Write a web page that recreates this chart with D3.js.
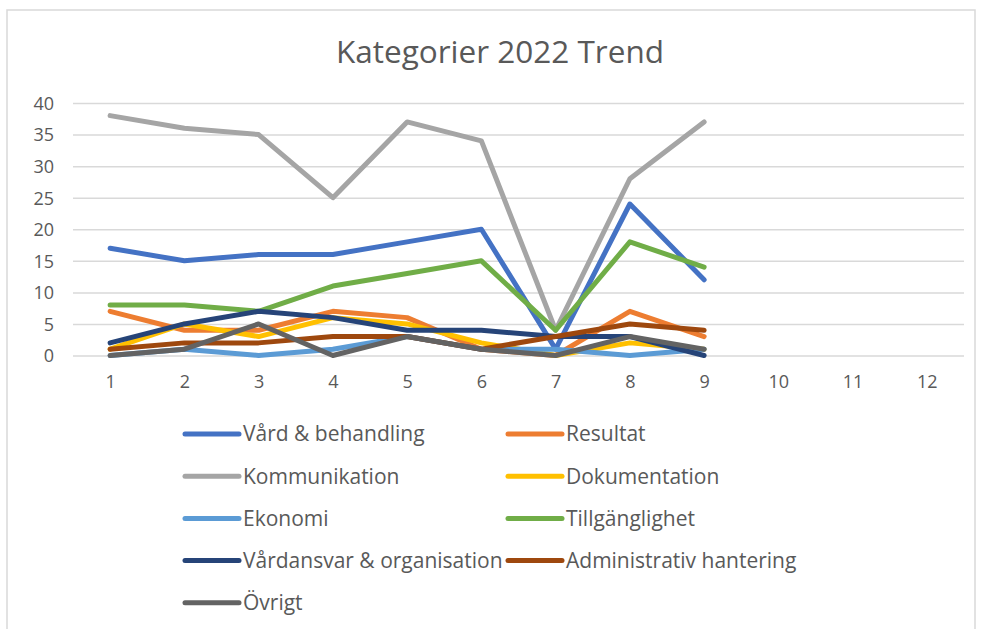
<!DOCTYPE html>
<html>
  <head>
    <meta charset="utf-8">
    <script src="https://d3js.org/d3.v7.min.js"></script>
    <style>
      body { margin: 0; background: white; }
      .gridline line { stroke: #d9d9d9; stroke-width: 1.5; }
      .gridline path { display: none; }
      .axis text { fill: #595959; font-family: "Open Sans", sans-serif; font-size: 18px; }
      .axis path, .axis line { display: none; }
      .legend text { fill: #595959; font-family: "Open Sans", sans-serif; font-size: 21px; }
    </style>
  </head>
  <body>
    <script>

      var months = ["1", "2", "3", "4", "5", "6", "7", "8", "9", "10", "11", "12"];
      var yTicks = [0, 5, 10, 15, 20, 25, 30, 35, 40];

      var seriesNames = ["Vård & behandling", "Resultat", "Kommunikation", "Dokumentation",
        "Ekonomi", "Tillgänglighet", "Vårdansvar & organisation", "Administrativ hantering", "Övrigt"];
      var seriesColors = ["#4472C4", "#ED7D31", "#A5A5A5", "#FFC000",
        "#5B9BD5", "#70AD47", "#264478", "#9E480E", "#636363"];

      var vard = [17, 15, 16, 16, 18, 20, 1, 24, 12];
      var resultat = [7, 4, 4, 7, 6, 1, 0, 7, 3];
      var kommunikation = [38, 36, 35, 25, 37, 34, 4, 28, 37];
      var dokumentation = [1, 5, 3, 6, 5, 2, 0, 2, 1];
      var ekonomi = [0, 1, 0, 1, 3, 1, 1, 0, 1];
      var tillganglighet = [8, 8, 7, 11, 13, 15, 4, 18, 14];
      var vardansvar = [2, 5, 7, 6, 4, 4, 3, 3, 0];
      var administrativ = [1, 2, 2, 3, 3, 1, 3, 5, 4];
      var ovrigt = [0, 1, 5, 0, 3, 1, 0, 3, 1];

      var seriesValues = [vard, resultat, kommunikation, dokumentation, ekonomi,
        tillganglighet, vardansvar, administrativ, ovrigt];

      var width = 981, height = 629;
      var plot = {left: 73, right: 964, top: 103, bottom: 355.5};

      var svg = d3.select("body").append("svg")
          .attr("width", width)
          .attr("height", height);

      // chart border
      svg.append("rect")
          .attr("x", 7)
          .attr("y", 10)
          .attr("width", 968)
          .attr("height", 640)
          .style("fill", "white")
          .style("stroke", "#d9d9d9")
          .style("stroke-width", 1.5);

      var x = d3.scalePoint().domain(months).range([plot.left, plot.right]).padding(0.5);
      var y = d3.scaleLinear().domain([0, 40]).range([plot.bottom, plot.top]);

      svg.append("g")
          .attr("class", "gridline")
          .attr("transform", "translate(" + plot.left + ",0)")
          .call(d3.axisLeft(y).tickValues(yTicks).tickSize(-(plot.right - plot.left)).tickFormat(""));

      svg.append("g")
          .attr("class", "axis")
          .attr("transform", "translate(" + (plot.left - 19) + ",0)")
          .call(d3.axisLeft(y).tickValues(yTicks).tickSize(0).tickPadding(0))
        .selectAll("text")
          .attr("dy", "0.35em");

      svg.append("g")
          .attr("class", "axis")
          .attr("transform", "translate(0," + plot.bottom + ")")
          .call(d3.axisBottom(x).tickSize(0).tickPadding(20));

      var line = d3.line()
          .x(function(d, i) { return x(months[i]); })
          .y(function(d) { return y(d); });

      svg.append("g").selectAll("path")
          .data(seriesValues)
          .enter().append("path")
          .attr("d", line)
          .style("fill", "none")
          .style("stroke", function(d, i) { return seriesColors[i]; })
          .style("stroke-width", 5)
          .style("stroke-linejoin", "round")
          .style("stroke-linecap", "round");

      // title
      svg.append("text")
          .attr("x", 500)
          .attr("y", 63)
          .attr("text-anchor", "middle")
          .style("font-family", "Open Sans, sans-serif")
          .style("font-size", "31.5px")
          .style("fill", "#595959")
          .text("Kategorier 2022 Trend");

      // legend, two columns
      var legend = svg.append("g").attr("class", "legend")
        .selectAll("g")
          .data(seriesNames)
          .enter().append("g")
          .attr("transform", function(d, i) {
            return "translate(" + (i % 2 ? 508 : 185) + "," + (434 + Math.floor(i / 2) * 42.2) + ")";
          });

      legend.append("line")
          .attr("x1", 0)
          .attr("x2", 54)
          .style("stroke", function(d, i) { return seriesColors[i]; })
          .style("stroke-width", 5)
          .style("stroke-linecap", "round");

      legend.append("text")
          .attr("x", 58)
          .attr("dy", "0.35em")
          .text(function(d) { return d; });

    </script>
  </body>
</html>
